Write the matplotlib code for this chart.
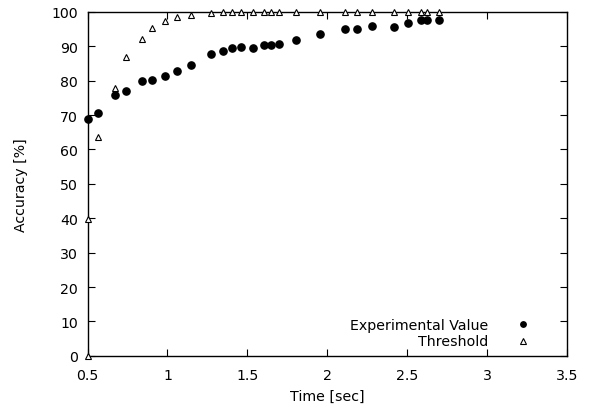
import matplotlib
matplotlib.use("Agg")
import matplotlib.pyplot as plt

plt.rcParams["font.family"] = ["DejaVu Sans"]

# experimental accuracy vs time
exp_time = [0.500, 0.563, 0.671, 0.742, 0.838, 0.903, 0.984, 1.057, 1.145, 1.274,
            1.349, 1.404, 1.458, 1.533, 1.604, 1.648, 1.700, 1.802, 1.955, 2.109,
            2.186, 2.280, 2.420, 2.504, 2.585, 2.627, 2.702]
exp_acc = [68.9, 70.6, 75.7, 77.0, 79.9, 80.3, 81.4, 82.9, 84.6, 87.7,
           88.7, 89.5, 89.9, 89.4, 90.5, 90.3, 90.7, 91.8, 93.6, 95.0,
           95.0, 96.0, 95.6, 96.7, 97.7, 97.7, 97.6]

# threshold curve
thr_time = [0.500, 0.500, 0.563, 0.671, 0.742, 0.838, 0.903, 0.984, 1.057, 1.145,
            1.274, 1.349, 1.404, 1.458, 1.533, 1.604, 1.648, 1.700, 1.802, 1.955,
            2.109, 2.186, 2.280, 2.420, 2.504, 2.585, 2.627, 2.702]
thr_acc = [0.0, 39.8, 63.6, 78.0, 86.8, 92.1, 95.4, 97.3, 98.5, 99.2,
           99.7, 99.9, 100, 100, 100, 100, 100, 100, 100, 100,
           100, 100, 100, 100, 100, 100, 100, 100]

x_ticks = [0.5, 1, 1.5, 2, 2.5, 3, 3.5]
x_labels = ["0.5", "1", "1.5", "2", "2.5", "3", "3.5"]
y_ticks = list(range(0, 101, 10))

fs = 10.2

fig, ax = plt.subplots(figsize=(5.96, 4.14), dpi=100)
fig.subplots_adjust(left=0.147, right=0.951, top=0.969, bottom=0.138)

ax.plot(exp_time, exp_acc, linestyle="none", marker="o", markersize=5.2,
        color="black", clip_on=False, label="Experimental Value", zorder=3)
ax.plot(thr_time, thr_acc, linestyle="none", marker="^", markersize=5,
        markerfacecolor="white", markeredgecolor="black", markeredgewidth=0.8,
        clip_on=False, label="Threshold", zorder=3)

ax.set_xlim(0.5, 3.5)
ax.set_ylim(0, 100)
ax.set_xticks(x_ticks)
ax.set_xticklabels(x_labels)
ax.set_yticks(y_ticks)
ax.tick_params(direction="in", top=True, right=True, length=5, width=0.8,
               labelsize=fs)
ax.tick_params(axis="x", pad=9)
ax.tick_params(axis="y", pad=7)
for spine in ax.spines.values():
    spine.set_linewidth(1.0)

ax.set_xlabel("Time [sec]", fontsize=fs, labelpad=4.5)
ax.set_ylabel("Accuracy [%]", fontsize=fs, labelpad=17)

leg = ax.legend(loc="lower right", bbox_to_anchor=(0.9497, 0.005),
                frameon=False, markerfirst=False, fontsize=fs,
                handlelength=2.0, handletextpad=1.44, labelspacing=0.2,
                borderaxespad=0.0, markerscale=0.75)
for t in leg.get_texts():
    t.set_ha("right")

fig.savefig("out.png", dpi=100)
